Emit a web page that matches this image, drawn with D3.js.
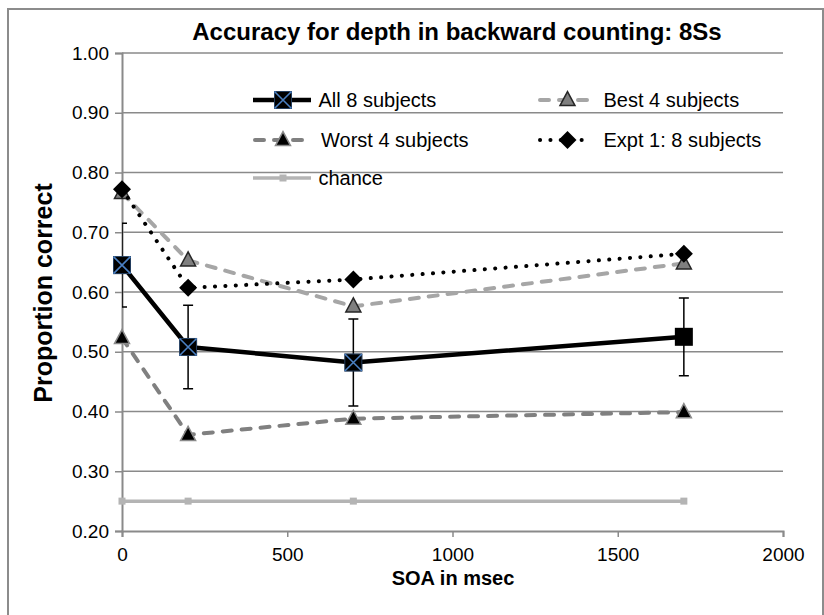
<!DOCTYPE html>
<html><head><meta charset="utf-8">
<script src="https://cdn.jsdelivr.net/npm/d3@7"></script>
<style>body{margin:0;background:#fff} svg{display:block} text{font-family:"Liberation Sans",Arial,Helvetica,sans-serif;fill:#000}</style>
</head><body><svg id="c" width="824" height="615"></svg>
<script>
// ---- data ----
const soa = [0, 200, 700, 1700];
const all8 = [0.645, 0.508, 0.482, 0.525];
const all8Err = [0.070, 0.070, 0.073, 0.065];
const all8Cross = [true, true, true, false];
const best4 = [0.766, 0.653, 0.576, 0.648];
const worst4 = [0.523, 0.361, 0.388, 0.399];
const expt1 = [0.772, 0.607, 0.621, 0.664];
const chance = [0.25, 0.25, 0.25, 0.25];
const xTicks = [0, 500, 1000, 1500, 2000];
const yTicks = [0.2, 0.3, 0.4, 0.5, 0.6, 0.7, 0.8, 0.9, 1.0];
const seriesNames = ["All 8 subjects", "Best 4 subjects", "Worst 4 subjects", "Expt 1: 8 subjects", "chance"];
const titleText = "Accuracy for depth in backward counting: 8Ss";
const xTitle = "SOA in msec";
const yTitle = "Proportion correct";

// ---- layout ----
const svg = d3.select("#c");
const X0 = 122, X1 = 783, Y0 = 531, Y1 = 53;
const x = d3.scaleLinear().domain([0, 2000]).range([X0, X1]);
const y = d3.scaleLinear().domain([0.2, 1.0]).range([Y0, Y1]);
const gridCol = "#8a8a8a";

// frame
svg.append("rect").attr("x", 8).attr("y", 9).attr("width", 815).attr("height", 620)
  .attr("fill", "none").attr("stroke", "#8c8c8c").attr("stroke-width", 2);

// title
svg.append("text").attr("x", 457).attr("y", 40).attr("text-anchor", "middle")
  .style("font-size", "24px").style("font-weight", "bold").text(titleText);

// gridlines
svg.append("g").selectAll("line").data(yTicks.slice(1)).join("line")
  .attr("x1", X0).attr("x2", X1).attr("y1", d => y(d)).attr("y2", d => y(d))
  .attr("stroke", gridCol).attr("stroke-width", 1.5);

// axes
const yAxis = svg.append("g").attr("transform", `translate(${X0},0)`)
  .call(d3.axisLeft(y).tickValues(yTicks).tickFormat(d3.format(".2f")).tickSize(7).tickPadding(6));
const xAxis = svg.append("g").attr("transform", `translate(0,${Y0})`)
  .call(d3.axisBottom(x).tickValues(xTicks).tickFormat(d3.format("d")).tickSize(6).tickPadding(6));
[yAxis, xAxis].forEach(a => {
  a.select(".domain").attr("stroke", gridCol).attr("stroke-width", 2);
  a.selectAll(".tick line").attr("stroke", gridCol).attr("stroke-width", 1.5);
  a.selectAll(".tick text").style("font-size", "19px").style("font-family", '"Liberation Sans",Arial,sans-serif').attr("fill", "#000");
});
xAxis.selectAll(".tick text").attr("dy", "0.95em");

// axis titles
svg.append("text").attr("x", 453).attr("y", 585).attr("text-anchor", "middle")
  .style("font-size", "20px").style("font-weight", "bold").text(xTitle);
svg.append("text").attr("transform", "translate(52,293) rotate(-90)").attr("text-anchor", "middle")
  .style("font-size", "25px").style("font-weight", "bold").text(yTitle);

// clip for error bars
svg.append("clipPath").attr("id", "plotclip").append("rect")
  .attr("x", X0).attr("y", 0).attr("width", X1 - X0).attr("height", 615);

// ---- series styles ----
const styles = {
  all8:   {stroke: "#000", width: 4.5, dash: null, cap: "butt"},
  best4:  {stroke: "#a6a6a6", width: 4, dash: "9,10", cap: "round"},
  worst4: {stroke: "#808080", width: 4, dash: "9,10", cap: "round"},
  expt1:  {stroke: "#000", width: 4, dash: "0.1,10.3", cap: "round"},
  chance: {stroke: "#b4b4b4", width: 3.5, dash: null, cap: "butt"}
};

function drawMarker(g, type, cx, cy, cross) {
  if (type === "square") {
    const s = 18;
    g.append("rect").attr("x", cx - s/2).attr("y", cy - s/2).attr("width", s).attr("height", s).attr("fill", "#000");
    if (cross) {
      const h = s/2 - 0.5;
      g.append("path").attr("d", `M${cx-h},${cy-h}L${cx+h},${cy+h}M${cx-h},${cy+h}L${cx+h},${cy-h}`)
        .attr("stroke", "#4a7fc1").attr("stroke-width", 1.6).attr("fill", "none");
      g.append("rect").attr("x", cx - s/2 + 0.5).attr("y", cy - s/2 + 0.5).attr("width", s - 1).attr("height", s - 1)
        .attr("fill", "none").attr("stroke", "#4a7fc1").attr("stroke-width", 0.8).attr("opacity", 0.6);
    }
  } else if (type === "triBest" || type === "triWorst") {
    const w = 15, h = 14;
    g.append("path").attr("d", `M${cx},${cy - h*0.6}L${cx + w/2},${cy + h*0.4}L${cx - w/2},${cy + h*0.4}Z`)
      .attr("fill", type === "triBest" ? "#7f7f7f" : "#000")
      .attr("stroke", type === "triBest" ? "#262626" : "#8a8a8a").attr("stroke-width", 1.5)
      .attr("stroke-linejoin", "miter");
  } else if (type === "diamond") {
    const r = 9;
    g.append("path").attr("d", `M${cx},${cy-r}L${cx+r},${cy}L${cx},${cy+r}L${cx-r},${cy}Z`).attr("fill", "#000");
  } else if (type === "smallsq") {
    const s = 7;
    g.append("rect").attr("x", cx - s/2).attr("y", cy - s/2).attr("width", s).attr("height", s).attr("fill", "#b4b4b4");
  }
}

function drawSeries(vals, st, markerType, crossFlags) {
  const pts = soa.map((s, i) => [x(s), y(vals[i])]);
  const g = svg.append("g");
  g.append("path").attr("d", d3.line()(pts)).attr("fill", "none")
    .attr("stroke", st.stroke).attr("stroke-width", st.width)
    .attr("stroke-dasharray", st.dash).attr("stroke-linecap", st.cap).attr("stroke-linejoin", "round");
  return {g, pts};
}

// chance
const ch = drawSeries(chance, styles.chance);
ch.pts.forEach(p => drawMarker(ch.g, "smallsq", p[0], p[1]));
// worst
const wo = drawSeries(worst4, styles.worst4);
// best
const be = drawSeries(best4, styles.best4);
// expt
const ex = drawSeries(expt1, styles.expt1);
wo.pts.forEach(p => drawMarker(wo.g, "triWorst", p[0], p[1]));
be.pts.forEach(p => drawMarker(be.g, "triBest", p[0], p[1]));
ex.pts.forEach(p => drawMarker(ex.g, "diamond", p[0], p[1]));

// all 8 with error bars
const eg = svg.append("g").attr("clip-path", "url(#plotclip)");
soa.forEach((s, i) => {
  const cx = x(s), yt = y(all8[i] + all8Err[i]), yb = y(all8[i] - all8Err[i]);
  eg.append("path").attr("d", `M${cx},${yt}L${cx},${yb}M${cx-5},${yt}L${cx+5},${yt}M${cx-5},${yb}L${cx+5},${yb}`)
    .attr("stroke", "#000").attr("stroke-width", 1.5).attr("fill", "none");
});
const al = drawSeries(all8, styles.all8);
al.pts.forEach((p, i) => drawMarker(al.g, "square", p[0], p[1], all8Cross[i]));

// ---- legend ----
const legKeys = ["all8", "best4", "worst4", "expt1", "chance"];
const legMarkers = ["square", "triBest", "triWorst", "diamond", "smallsq"];
const rowsY = [100, 140, 178];
const colsX = [253, 538];
const lg = svg.append("g");
seriesNames.forEach((name, i) => {
  const lx = colsX[i % 2], ly = rowsY[Math.floor(i / 2)];
  const st = styles[legKeys[i]];
  const len = (i % 2 === 0) ? 58 : 55;
  lg.append("line").attr("x1", lx + (st.cap === "round" ? 2 : 0)).attr("x2", lx + len - (st.cap === "round" ? 2 : 0))
    .attr("y1", ly).attr("y2", ly)
    .attr("stroke", st.stroke).attr("stroke-width", st.width)
    .attr("stroke-dasharray", st.dash).attr("stroke-linecap", st.cap);
  drawMarker(lg, legMarkers[i], lx + (i % 2 === 0 ? 30 : 29.5), ly, true);
  lg.append("text").attr("x", lx + (i === 2 ? 68 : 65.5)).attr("y", ly).attr("dy", "0.35em")
    .style("font-size", "20px").text(name);
});
</script></body></html>
